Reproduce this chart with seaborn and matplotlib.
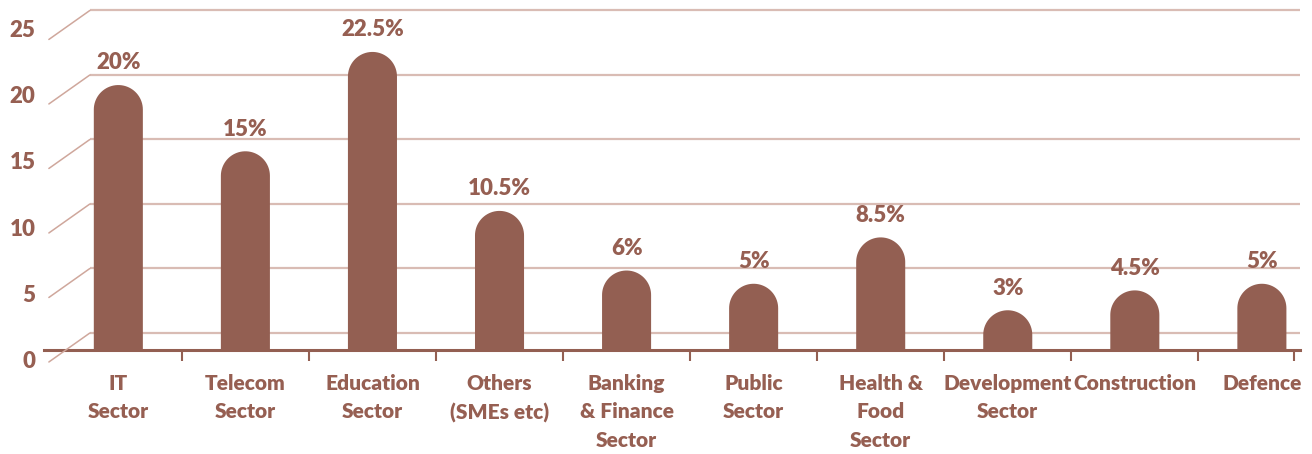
import numpy as np
import pandas as pd
import seaborn as sns
import matplotlib.pyplot as plt
from matplotlib.path import Path
from matplotlib.patches import PathPatch
from matplotlib.lines import Line2D
from matplotlib.transforms import ScaledTranslation

sectors = ['IT\nSector', 'Telecom\nSector', 'Education\nSector', 'Others\n(SMEs etc)',
           'Banking\n& Finance\nSector', 'Public\nSector', 'Health &\nFood\nSector',
           'Development\nSector', 'Construction', 'Defence']
shares = [20, 15, 22.5, 10.5, 6, 5, 8.5, 3, 4.5, 5]
grid_levels = [0, 5, 10, 15, 20, 25]

BAR = '#935f52'
TEXT = '#965f52'
GRID = '#d9bcb4'
DIAG = '#cfa79c'
WEIGHT = 'heavy'

sns.set_theme(style='white')
plt.rcParams['font.family'] = ['Lato', 'DejaVu Sans']

W, H = 1312, 454
fig = plt.figure(figsize=(W / 100, H / 100), dpi=100)
rect = [44 / W, (H - 350) / H, (1300 - 44) / W, 350 / H]

# back wall with gridlines (perspective offset)
wall = fig.add_axes(rect, zorder=0)
wall.set_xlim(-0.585, 9.30)
wall.set_ylim(-1.318, 25.81)
wall.axis('off')
wall.hlines(grid_levels, -0.224, 9.30, color=GRID, lw=1.6)
for v in grid_levels:
    bx, by = wall.transData.transform((-0.224, v))
    p0 = fig.transFigure.inverted().transform((bx - 41, by - 29))
    p1 = fig.transFigure.inverted().transform((bx, by))
    fig.add_artist(Line2D([p0[0], p1[0]], [p0[1], p1[1]], color=DIAG, lw=1.1,
                          transform=fig.transFigure))

ax = fig.add_axes(rect, zorder=1)
ax.patch.set_alpha(0)
df = pd.DataFrame({'sector': sectors, 'share': shares})
sns.barplot(data=df, x='sector', y='share', color=BAR, saturation=1, width=0.386, ax=ax)
ax.set_xlim(-0.585, 9.30)
ax.set_ylim(0, 26.42)

# round the bar tops
px_x = ax.transData.transform((1, 0))[0] - ax.transData.transform((0, 0))[0]
px_y = ax.transData.transform((0, 1))[1] - ax.transData.transform((0, 0))[1]
t = np.linspace(np.pi, 0, 40)
for p in list(ax.patches):
    x0, w, h = p.get_x(), p.get_width(), p.get_height()
    rx = w / 2
    ry = rx * px_x / px_y
    cx, cy = x0 + rx, h - ry
    verts = [(x0, 0), (x0, cy)] + [(cx + rx * np.cos(a), cy + ry * np.sin(a)) for a in t] + [(x0 + w, 0), (x0, 0)]
    codes = [Path.MOVETO] + [Path.LINETO] * (len(verts) - 2) + [Path.CLOSEPOLY]
    ax.add_patch(PathPatch(Path(verts, codes), facecolor=BAR, edgecolor='none', zorder=2))
    p.set_visible(False)
    ax.annotate(f'{h:g}%', (cx, h), xytext=(0, 16), textcoords='offset points',
                ha='center', va='center', fontsize=16, color=TEXT, fontweight=WEIGHT)

for s in ['top', 'right', 'left']:
    ax.spines[s].set_visible(False)
ax.spines['bottom'].set_color(BAR)
ax.spines['bottom'].set_linewidth(2.2)
ax.set_xlabel('')
ax.set_ylabel('')

ax.set_xticks(range(len(sectors)))
ax.set_xticklabels(sectors, fontsize=15, color=TEXT, fontweight=WEIGHT, linespacing=1.6)
ax.set_xticks([i + 0.5 for i in range(len(sectors) - 1)] + [len(sectors) - 0.75], minor=True)
ax.tick_params(axis='x', which='major', length=0, pad=17)
ax.tick_params(axis='x', which='minor', length=8, width=1.5, color=BAR, direction='out', bottom=True)

ax.set_yticks(grid_levels)
ax.set_yticklabels([str(v) for v in grid_levels], fontsize=16, color=TEXT, fontweight=WEIGHT)
ax.tick_params(axis='y', length=0, pad=6)
shift = ScaledTranslation(0, -9.5 / 100, fig.dpi_scale_trans)
for lab in ax.get_yticklabels():
    lab.set_transform(lab.get_transform() + shift)
ax.grid(False)

fig.savefig('out.png', dpi=100)
